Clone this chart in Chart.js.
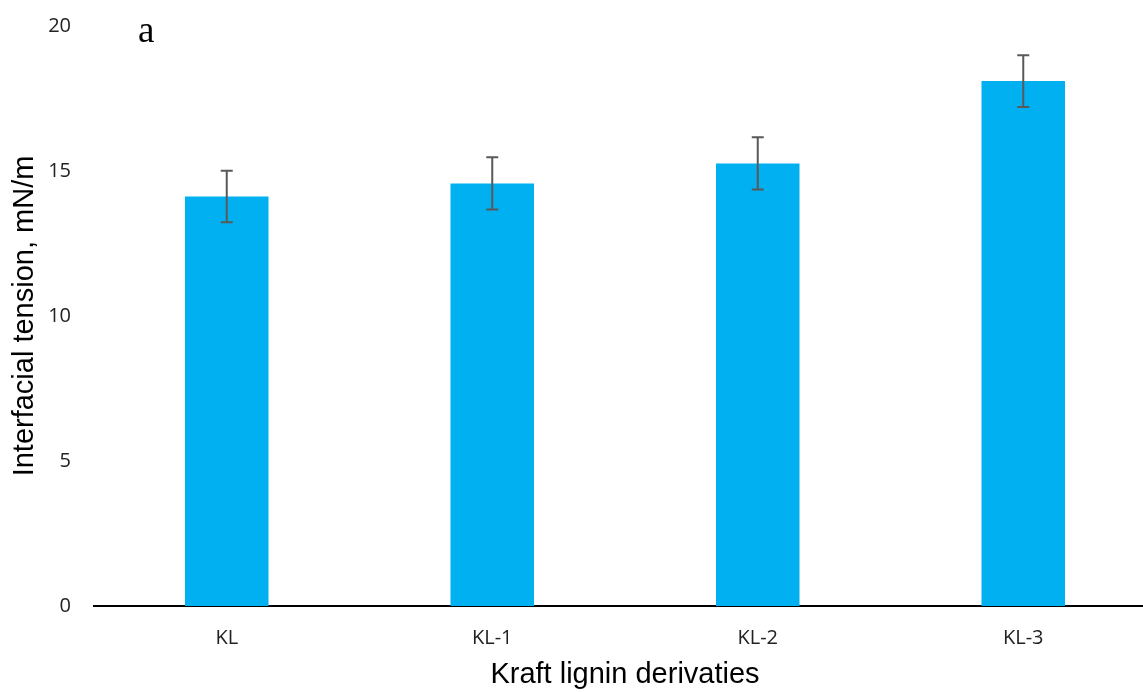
<!DOCTYPE html>
<html>
<head>
<meta charset="utf-8">
<script src="https://cdn.jsdelivr.net/npm/chart.js@4"></script>
<style>
html,body{margin:0;padding:0;background:#fff;overflow:hidden;}
#wrap{width:1143px;height:692px;overflow:hidden;}
</style>
</head>
<body>
<div id="wrap"><canvas id="c" width="1156" height="692"></canvas></div>
<script>
const categories = ["KL", "KL-1", "KL-2", "KL-3"];
const tensionValues = [14.12, 14.57, 15.26, 18.1];
const tensionErrors = [0.89, 0.9, 0.9, 0.89];
const yTicks = [0, 5, 10, 15, 20];
const panelLabel = "a";

const errorBarPlugin = {
  id: 'errorBars',
  afterDatasetsDraw(chart) {
    const ctx = chart.ctx;
    const meta = chart.getDatasetMeta(0);
    const ys = chart.scales.y;
    ctx.save();
    ctx.strokeStyle = '#595959';
    ctx.lineWidth = 2;
    meta.data.forEach((bar, i) => {
      const v = tensionValues[i], e = tensionErrors[i];
      const yTop = ys.getPixelForValue(v + e);
      const yBot = ys.getPixelForValue(v - e);
      const x = bar.x;
      ctx.beginPath();
      ctx.moveTo(x, yTop); ctx.lineTo(x, yBot);
      ctx.moveTo(x - 6, yTop); ctx.lineTo(x + 6, yTop);
      ctx.moveTo(x - 6, yBot); ctx.lineTo(x + 6, yBot);
      ctx.stroke();
    });
    ctx.fillStyle = '#000';
    ctx.font = '37px "Liberation Serif", serif';
    ctx.textBaseline = 'alphabetic';
    ctx.textAlign = 'left';
    ctx.fillText(panelLabel, 138, 42);
    ctx.restore();
  }
};

new Chart(document.getElementById('c'), {
  type: 'bar',
  data: {
    labels: categories,
    datasets: [{
      data: tensionValues,
      backgroundColor: '#00B0F0',
      borderWidth: 0,
      categoryPercentage: 1.0,
      barPercentage: 0.3145
    }]
  },
  options: {
    responsive: false,
    animation: false,
    layout: { padding: { top: 26, right: 0, left: 0, bottom: 0 } },
    plugins: { legend: { display: false }, tooltip: { enabled: false } },
    scales: {
      x: {
        grid: { display: false, drawTicks: false },
        border: { display: true, color: '#000', width: 2 },
        ticks: { color: '#222', font: { family: 'Open Sans', size: 20 }, padding: 20 },
        title: { display: true, text: 'Kraft lignin derivaties', color: '#000',
                 font: { family: 'Liberation Sans', size: 29 }, padding: { top: 0, bottom: 0 } },
        afterFit(s) { s.height = 86; s.paddingLeft = 0; s.paddingRight = 0; }
      },
      y: {
        min: 0, max: 20,
        afterBuildTicks(s) { s.ticks = yTicks.map(v => ({ value: v })); },
        grid: { display: false, drawTicks: false },
        border: { display: false },
        ticks: { color: '#222', font: { family: 'Open Sans', size: 20 }, padding: 23 },
        title: { display: true, text: 'Interfacial tension, mN/m', color: '#000',
                 font: { family: 'Liberation Sans', size: 29 }, padding: { top: 8, bottom: 0 } },
        afterFit(s) { s.width = 94; s.paddingTop = 0; s.paddingBottom = 0; }
      }
    }
  },
  plugins: [errorBarPlugin]
});
</script>
</body>
</html>
